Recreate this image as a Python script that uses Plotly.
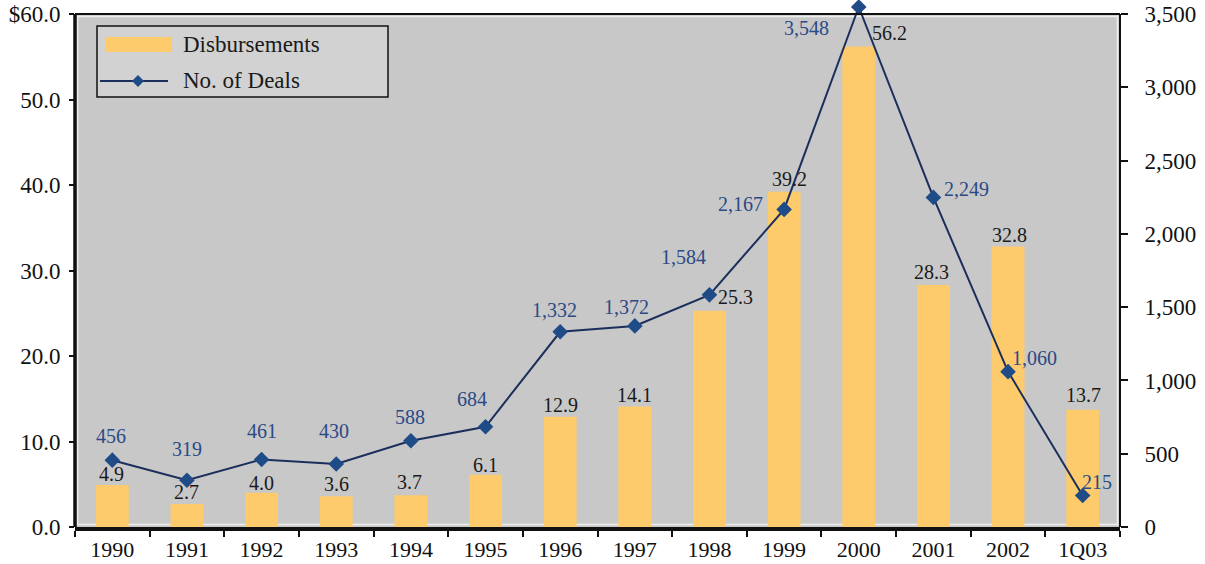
import plotly.graph_objects as go

# Venture capital disbursements ($B) and number of deals, 1990 - 1Q03
years = ["1990", "1991", "1992", "1993", "1994", "1995", "1996",
         "1997", "1998", "1999", "2000", "2001", "2002", "1Q03"]
disbursements = [4.9, 2.7, 4.0, 3.6, 3.7, 6.1, 12.9, 14.1, 25.3, 39.2, 56.2, 28.3, 32.8, 13.7]
deals = [456, 319, 461, 430, 588, 684, 1332, 1372, 1584, 2167, 3548, 2249, 1060, 215]

left_ticks = [0, 10, 20, 30, 40, 50, 60]
right_ticks = [0, 500, 1000, 1500, 2000, 2500, 3000, 3500]

# pixel offsets (dx, dy; dy negative = upward) of the value labels
deal_label_offsets = [(-1, -24), (0, -31), (0, -28), (-2, -33), (-1, -24), (-14, -28),
                      (-6, -22), (-8, -19), (-26, -38), (-44, -5), (-52, 21),
                      (33, -8), (26, -14), (14, -13)]
disb_label_offsets = [(-1, -11), (0, -12), (0, -10), (0, -12), (-1, -13), (0, -10),
                      (0, -12), (0, -11), (26, -14), (5, -13), (31, -14),
                      (-2, -13), (1, -12), (1, -15)]

FONT = "Liberation Serif"
BAR_COLOR = "#FECB6C"
LINE_COLOR = "#1B2E5C"
MARKER_COLOR = "#1F4C86"
LABEL_BLUE = "#2B4A86"
BG_GRAY = "#C8C8C8"

# the frame sits at 60 / 3,500; a little headroom lets the 2000 peak poke above it
Y_TOP = 61.29
Y2_TOP = Y_TOP / 60 * 3500

fig = go.Figure()

fig.add_trace(go.Bar(
    x=years, y=disbursements, name="Disbursements",
    marker=dict(color=BAR_COLOR, line=dict(width=0)),
    width=0.44, showlegend=False,
))

fig.add_trace(go.Scatter(
    x=years, y=deals, name="No. of Deals", yaxis="y2",
    mode="lines+markers",
    line=dict(color=LINE_COLOR, width=2),
    marker=dict(symbol="diamond", size=12, color=MARKER_COLOR),
    cliponaxis=False, showlegend=False,
))

# value labels; x is given as the category index so "1990" is not read as a number
annotations = []
for i, (v, (dx, dy)) in enumerate(zip(deals, deal_label_offsets)):
    annotations.append(dict(
        x=i, y=v, xref="x", yref="y2", text=f"{v:,}", showarrow=False,
        xshift=dx, yshift=-dy, font=dict(family=FONT, size=20, color=LABEL_BLUE),
    ))
for i, (v, (dx, dy)) in enumerate(zip(disbursements, disb_label_offsets)):
    annotations.append(dict(
        x=i, y=v, xref="x", yref="y", text=f"{v:.1f}", showarrow=False,
        xshift=dx, yshift=-dy, font=dict(family=FONT, size=20, color="#1A1A1A"),
    ))

# legend, drawn by hand so the swatches keep their wide shape
PLOT_L, PLOT_W, PLOT_B, PLOT_H = 75, 1045, 527, 524


def px_x(p):
    return (p - PLOT_L) / PLOT_W


def px_y(p):
    return (PLOT_B - p) / PLOT_H


annotations += [
    dict(x=px_x(181), y=px_y(45), xref="paper", yref="paper", text="Disbursements",
         showarrow=False, xanchor="left", yanchor="middle",
         font=dict(family=FONT, size=23, color="#1A1A1A")),
    dict(x=px_x(181), y=px_y(80), xref="paper", yref="paper", text="No. of Deals",
         showarrow=False, xanchor="left", yanchor="middle",
         font=dict(family=FONT, size=23, color="#1A1A1A")),
]

inset_x = 2.5 / PLOT_W
inset_y = 2.5 / PLOT_H
top_paper = 60 / Y_TOP

shapes = [
    # plot background up to the 60 / 3,500 level
    dict(type="rect", xref="paper", yref="y", x0=0, x1=1, y0=0, y1=60,
         fillcolor=BG_GRAY, line=dict(width=0), layer="below"),
    dict(type="rect", xref="paper", yref="paper", x0=inset_x, x1=1 - inset_x,
         y0=inset_y, y1=top_paper - inset_y,
         line=dict(color="#EEEEEE", width=1.5), layer="below"),
    # frame
    dict(type="line", xref="paper", yref="y", x0=0, x1=1, y0=60, y1=60,
         line=dict(color="#111111", width=2), layer="above"),
    dict(type="line", xref="paper", yref="y", x0=0, x1=0, y0=0, y1=60,
         line=dict(color="#111111", width=3.5), layer="above"),
    dict(type="line", xref="paper", yref="y", x0=1, x1=1, y0=0, y1=60,
         line=dict(color="#111111", width=2), layer="above"),
    # legend box and swatches
    dict(type="rect", xref="paper", yref="paper", x0=px_x(97), x1=px_x(388),
         y0=px_y(97), y1=px_y(26), line=dict(color="#111111", width=1.5),
         fillcolor="#D2D2D2", layer="above"),
    dict(type="rect", xref="paper", yref="paper", x0=px_x(105), x1=px_x(172),
         y0=px_y(52), y1=px_y(37), line=dict(width=0), fillcolor=BAR_COLOR, layer="above"),
    dict(type="line", xref="paper", yref="paper", x0=px_x(100), x1=px_x(168),
         y0=px_y(81), y1=px_y(81), line=dict(color=LINE_COLOR, width=2), layer="above"),
    dict(type="path", xref="paper", yref="paper",
         path=(f"M {px_x(132)} {px_y(81)} L {px_x(138)} {px_y(75)} "
               f"L {px_x(144)} {px_y(81)} L {px_x(138)} {px_y(87)} Z"),
         fillcolor=MARKER_COLOR, line=dict(width=0), layer="above"),
]

fig.update_layout(
    width=1205, height=564,
    margin=dict(l=PLOT_L, r=1205 - PLOT_L - PLOT_W, t=3, b=564 - PLOT_B, autoexpand=False),
    paper_bgcolor="white", plot_bgcolor="white",
    font=dict(family=FONT, size=22, color="#111111"),
    xaxis=dict(
        type="category", categoryorder="array", categoryarray=years,
        range=[-0.5, len(years) - 0.5], autorange=False,
        showgrid=False, zeroline=False,
        showline=True, linecolor="#111111", linewidth=3.5,
        ticks="outside", ticklen=6, tickwidth=2, tickcolor="#111111",
        tickson="boundaries", ticklabelstandoff=0, tickangle=0,
        tickfont=dict(family=FONT, size=22, color="#111111"),
    ),
    yaxis=dict(
        range=[0, Y_TOP], autorange=False, showgrid=False, zeroline=False, showline=False,
        tickmode="array", tickvals=left_ticks,
        ticktext=[("$" if t == 60 else "") + f"{t:.1f}" for t in left_ticks],
        ticks="outside", ticklen=5, tickwidth=2, tickcolor="#111111",
        ticklabelstandoff=4,
        tickfont=dict(family=FONT, size=23, color="#111111"),
    ),
    yaxis2=dict(
        range=[0, Y2_TOP], autorange=False, overlaying="y", side="right",
        showgrid=False, zeroline=False, showline=False,
        tickmode="array", tickvals=right_ticks,
        ticktext=[f"{t:,}" for t in right_ticks],
        ticks="outside", ticklen=7, tickwidth=2, tickcolor="#111111",
        ticklabelstandoff=12,
        tickfont=dict(family=FONT, size=23, color="#111111"),
    ),
    annotations=annotations,
    shapes=shapes,
)

fig.write_html("out.html")
